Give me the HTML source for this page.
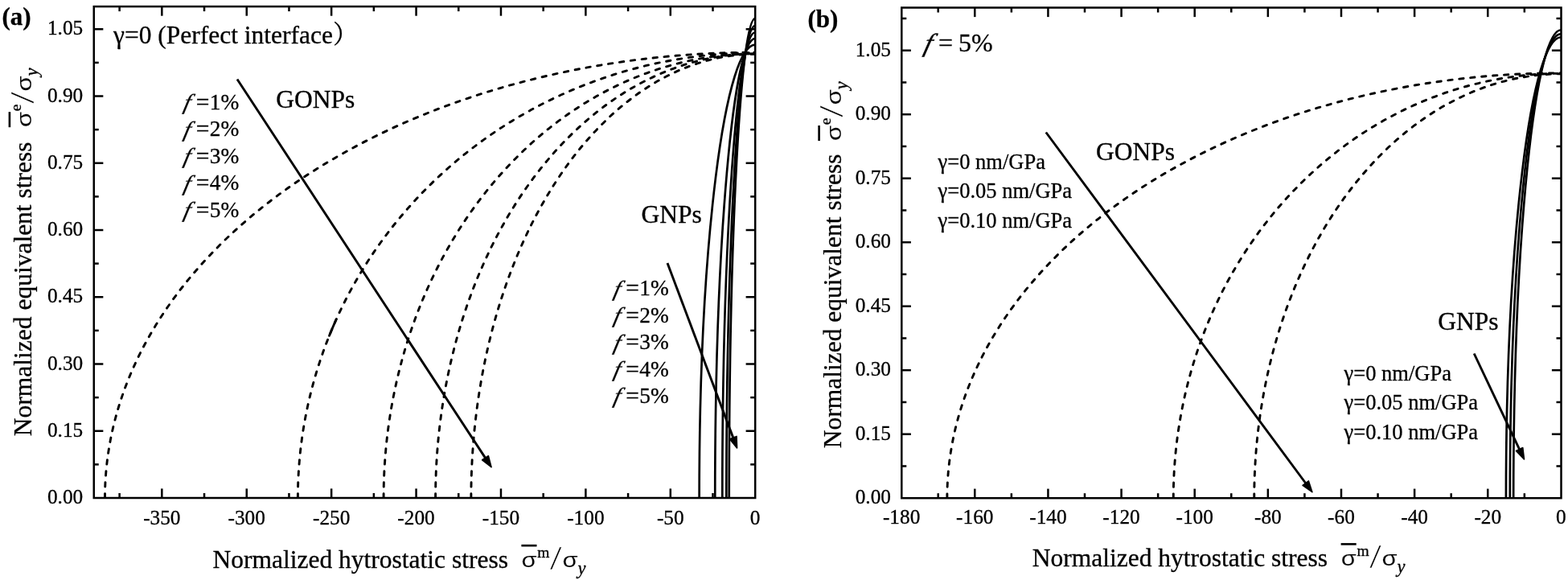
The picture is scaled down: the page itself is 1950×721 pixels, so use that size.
<!DOCTYPE html>
<html><head><meta charset="utf-8"><title>Yield surfaces</title>
<style>
html,body{margin:0;padding:0;background:#fff;}
svg{display:block;font-family:'Liberation Serif', serif;fill:#000;}
text{stroke:#000;stroke-width:0.3px;}
</style></head>
<body>
<svg width="1950" height="721" viewBox="0 0 1950 721">
<rect width="1950" height="721" fill="#fff"/>
<clipPath id="clipa"><rect x="116.75" y="8.1" width="822.45" height="610.9"/></clipPath>
<g clip-path="url(#clipa)">
<path d="M130.49,619.00 A808.71,553.89 0 0 1 939.20,65.11" fill="none" stroke="#000" stroke-width="2.9" stroke-dasharray="5.4 8.6" stroke-linecap="round"/>
<path d="M370.41,619.00 A568.79,553.34 0 0 1 939.20,65.66" fill="none" stroke="#000" stroke-width="2.9" stroke-dasharray="5.4 8.6" stroke-linecap="round"/>
<path d="M477.08,619.00 A462.12,552.23 0 0 1 939.20,66.77" fill="none" stroke="#000" stroke-width="2.9" stroke-dasharray="5.4 8.6" stroke-linecap="round"/>
<path d="M541.59,619.00 A397.61,552.23 0 0 1 939.20,66.77" fill="none" stroke="#000" stroke-width="2.9" stroke-dasharray="5.4 8.6" stroke-linecap="round"/>
<path d="M585.87,619.00 A353.33,551.67 0 0 1 939.20,67.33" fill="none" stroke="#000" stroke-width="2.9" stroke-dasharray="5.4 8.6" stroke-linecap="round"/>
<path d="M869.63,619.00 A69.57,563.32 0 0 1 939.20,55.68" fill="none" stroke="#000" stroke-width="2.7" />
<path d="M889.24,619.00 A49.96,571.15 0 0 1 939.20,47.85" fill="none" stroke="#000" stroke-width="2.7" />
<path d="M898.30,619.00 A40.90,578.75 0 0 1 939.20,40.25" fill="none" stroke="#000" stroke-width="2.7" />
<path d="M903.36,619.00 A35.84,587.08 0 0 1 939.20,31.92" fill="none" stroke="#000" stroke-width="2.7" />
<path d="M906.73,619.00 A32.47,596.13 0 0 1 939.20,22.87" fill="none" stroke="#000" stroke-width="2.7" />
</g>
<rect x="116.75" y="8.1" width="822.45" height="610.9" fill="none" stroke="#000" stroke-width="2.5"/>
<line x1="148.62" y1="619.00" x2="148.62" y2="613.00" stroke="#000" stroke-width="2.5" />
<line x1="148.62" y1="8.10" x2="148.62" y2="14.10" stroke="#000" stroke-width="2.5" />
<line x1="201.33" y1="619.00" x2="201.33" y2="607.40" stroke="#000" stroke-width="2.5" />
<line x1="201.33" y1="8.10" x2="201.33" y2="19.70" stroke="#000" stroke-width="2.5" />
<line x1="254.03" y1="619.00" x2="254.03" y2="613.00" stroke="#000" stroke-width="2.5" />
<line x1="254.03" y1="8.10" x2="254.03" y2="14.10" stroke="#000" stroke-width="2.5" />
<line x1="306.74" y1="619.00" x2="306.74" y2="607.40" stroke="#000" stroke-width="2.5" />
<line x1="306.74" y1="8.10" x2="306.74" y2="19.70" stroke="#000" stroke-width="2.5" />
<line x1="359.45" y1="619.00" x2="359.45" y2="613.00" stroke="#000" stroke-width="2.5" />
<line x1="359.45" y1="8.10" x2="359.45" y2="14.10" stroke="#000" stroke-width="2.5" />
<line x1="412.15" y1="619.00" x2="412.15" y2="607.40" stroke="#000" stroke-width="2.5" />
<line x1="412.15" y1="8.10" x2="412.15" y2="19.70" stroke="#000" stroke-width="2.5" />
<line x1="464.86" y1="619.00" x2="464.86" y2="613.00" stroke="#000" stroke-width="2.5" />
<line x1="464.86" y1="8.10" x2="464.86" y2="14.10" stroke="#000" stroke-width="2.5" />
<line x1="517.56" y1="619.00" x2="517.56" y2="607.40" stroke="#000" stroke-width="2.5" />
<line x1="517.56" y1="8.10" x2="517.56" y2="19.70" stroke="#000" stroke-width="2.5" />
<line x1="570.27" y1="619.00" x2="570.27" y2="613.00" stroke="#000" stroke-width="2.5" />
<line x1="570.27" y1="8.10" x2="570.27" y2="14.10" stroke="#000" stroke-width="2.5" />
<line x1="622.97" y1="619.00" x2="622.97" y2="607.40" stroke="#000" stroke-width="2.5" />
<line x1="622.97" y1="8.10" x2="622.97" y2="19.70" stroke="#000" stroke-width="2.5" />
<line x1="675.67" y1="619.00" x2="675.67" y2="613.00" stroke="#000" stroke-width="2.5" />
<line x1="675.67" y1="8.10" x2="675.67" y2="14.10" stroke="#000" stroke-width="2.5" />
<line x1="728.38" y1="619.00" x2="728.38" y2="607.40" stroke="#000" stroke-width="2.5" />
<line x1="728.38" y1="8.10" x2="728.38" y2="19.70" stroke="#000" stroke-width="2.5" />
<line x1="781.09" y1="619.00" x2="781.09" y2="613.00" stroke="#000" stroke-width="2.5" />
<line x1="781.09" y1="8.10" x2="781.09" y2="14.10" stroke="#000" stroke-width="2.5" />
<line x1="833.79" y1="619.00" x2="833.79" y2="607.40" stroke="#000" stroke-width="2.5" />
<line x1="833.79" y1="8.10" x2="833.79" y2="19.70" stroke="#000" stroke-width="2.5" />
<line x1="886.50" y1="619.00" x2="886.50" y2="613.00" stroke="#000" stroke-width="2.5" />
<line x1="886.50" y1="8.10" x2="886.50" y2="14.10" stroke="#000" stroke-width="2.5" />
<line x1="116.75" y1="577.38" x2="122.75" y2="577.38" stroke="#000" stroke-width="2.5" />
<line x1="939.20" y1="577.38" x2="933.20" y2="577.38" stroke="#000" stroke-width="2.5" />
<line x1="116.75" y1="535.75" x2="128.35" y2="535.75" stroke="#000" stroke-width="2.5" />
<line x1="939.20" y1="535.75" x2="927.60" y2="535.75" stroke="#000" stroke-width="2.5" />
<line x1="116.75" y1="494.12" x2="122.75" y2="494.12" stroke="#000" stroke-width="2.5" />
<line x1="939.20" y1="494.12" x2="933.20" y2="494.12" stroke="#000" stroke-width="2.5" />
<line x1="116.75" y1="452.50" x2="128.35" y2="452.50" stroke="#000" stroke-width="2.5" />
<line x1="939.20" y1="452.50" x2="927.60" y2="452.50" stroke="#000" stroke-width="2.5" />
<line x1="116.75" y1="410.88" x2="122.75" y2="410.88" stroke="#000" stroke-width="2.5" />
<line x1="939.20" y1="410.88" x2="933.20" y2="410.88" stroke="#000" stroke-width="2.5" />
<line x1="116.75" y1="369.25" x2="128.35" y2="369.25" stroke="#000" stroke-width="2.5" />
<line x1="939.20" y1="369.25" x2="927.60" y2="369.25" stroke="#000" stroke-width="2.5" />
<line x1="116.75" y1="327.62" x2="122.75" y2="327.62" stroke="#000" stroke-width="2.5" />
<line x1="939.20" y1="327.62" x2="933.20" y2="327.62" stroke="#000" stroke-width="2.5" />
<line x1="116.75" y1="286.00" x2="128.35" y2="286.00" stroke="#000" stroke-width="2.5" />
<line x1="939.20" y1="286.00" x2="927.60" y2="286.00" stroke="#000" stroke-width="2.5" />
<line x1="116.75" y1="244.38" x2="122.75" y2="244.38" stroke="#000" stroke-width="2.5" />
<line x1="939.20" y1="244.38" x2="933.20" y2="244.38" stroke="#000" stroke-width="2.5" />
<line x1="116.75" y1="202.75" x2="128.35" y2="202.75" stroke="#000" stroke-width="2.5" />
<line x1="939.20" y1="202.75" x2="927.60" y2="202.75" stroke="#000" stroke-width="2.5" />
<line x1="116.75" y1="161.12" x2="122.75" y2="161.12" stroke="#000" stroke-width="2.5" />
<line x1="939.20" y1="161.12" x2="933.20" y2="161.12" stroke="#000" stroke-width="2.5" />
<line x1="116.75" y1="119.50" x2="128.35" y2="119.50" stroke="#000" stroke-width="2.5" />
<line x1="939.20" y1="119.50" x2="927.60" y2="119.50" stroke="#000" stroke-width="2.5" />
<line x1="116.75" y1="77.88" x2="122.75" y2="77.88" stroke="#000" stroke-width="2.5" />
<line x1="939.20" y1="77.88" x2="933.20" y2="77.88" stroke="#000" stroke-width="2.5" />
<line x1="116.75" y1="36.25" x2="128.35" y2="36.25" stroke="#000" stroke-width="2.5" />
<line x1="939.20" y1="36.25" x2="927.60" y2="36.25" stroke="#000" stroke-width="2.5" />
<text x="201.33" y="651.80" font-size="25.3" text-anchor="middle" >-350</text>
<text x="306.74" y="651.80" font-size="25.3" text-anchor="middle" >-300</text>
<text x="412.15" y="651.80" font-size="25.3" text-anchor="middle" >-250</text>
<text x="517.56" y="651.80" font-size="25.3" text-anchor="middle" >-200</text>
<text x="622.97" y="651.80" font-size="25.3" text-anchor="middle" >-150</text>
<text x="728.38" y="651.80" font-size="25.3" text-anchor="middle" >-100</text>
<text x="833.79" y="651.80" font-size="25.3" text-anchor="middle" >-50</text>
<text x="939.20" y="651.80" font-size="25.3" text-anchor="middle" >0</text>
<text x="103.20" y="626.20" font-size="25.3" text-anchor="end" >0.00</text>
<text x="103.20" y="542.95" font-size="25.3" text-anchor="end" >0.15</text>
<text x="103.20" y="459.70" font-size="25.3" text-anchor="end" >0.30</text>
<text x="103.20" y="376.45" font-size="25.3" text-anchor="end" >0.45</text>
<text x="103.20" y="293.20" font-size="25.3" text-anchor="end" >0.60</text>
<text x="103.20" y="209.95" font-size="25.3" text-anchor="end" >0.75</text>
<text x="103.20" y="126.70" font-size="25.3" text-anchor="end" >0.90</text>
<text x="103.20" y="43.45" font-size="25.3" text-anchor="end" >1.05</text>
<path d="M409.53,417.33 L410.35,415.30 L411.18,413.29 L412.01,411.27 L412.85,409.26 L413.70,407.25 L414.56,405.24 L415.43,403.24 L416.31,401.24 L417.19,399.24 L418.08,397.25" fill="none" stroke="#000" stroke-width="2.9" stroke-linejoin="round"  stroke-linecap="round"/>
<clipPath id="clipb"><rect x="1121.3" y="9.5" width="820.2" height="609.7"/></clipPath>
<g clip-path="url(#clipb)">
<path d="M1177.87,619.20 A763.53,528.41 0 0 1 1941.40,90.79" fill="none" stroke="#000" stroke-width="2.9" stroke-dasharray="5.4 8.6" stroke-linecap="round"/>
<path d="M1459.27,619.20 A482.13,527.88 0 0 1 1941.40,91.32" fill="none" stroke="#000" stroke-width="2.9" stroke-dasharray="5.4 8.6" stroke-linecap="round"/>
<path d="M1559.75,619.20 A381.65,527.35 0 0 1 1941.40,91.85" fill="none" stroke="#000" stroke-width="2.9" stroke-dasharray="5.4 8.6" stroke-linecap="round"/>
<path d="M1872.91,619.20 A68.49,572.93 0 0 1 1941.40,46.27" fill="none" stroke="#000" stroke-width="2.7" />
<path d="M1877.83,619.20 A63.57,577.17 0 0 1 1941.40,42.03" fill="none" stroke="#000" stroke-width="2.7" />
<path d="M1882.16,619.20 A59.24,581.94 0 0 1 1941.40,37.26" fill="none" stroke="#000" stroke-width="2.7" />
</g>
<rect x="1121.3" y="9.5" width="820.2" height="609.7" fill="none" stroke="#000" stroke-width="2.5"/>
<line x1="1166.71" y1="619.20" x2="1166.71" y2="613.20" stroke="#000" stroke-width="2.5" />
<line x1="1166.71" y1="9.50" x2="1166.71" y2="15.50" stroke="#000" stroke-width="2.5" />
<line x1="1212.28" y1="619.20" x2="1212.28" y2="607.60" stroke="#000" stroke-width="2.5" />
<line x1="1212.28" y1="9.50" x2="1212.28" y2="21.10" stroke="#000" stroke-width="2.5" />
<line x1="1257.85" y1="619.20" x2="1257.85" y2="613.20" stroke="#000" stroke-width="2.5" />
<line x1="1257.85" y1="9.50" x2="1257.85" y2="15.50" stroke="#000" stroke-width="2.5" />
<line x1="1303.42" y1="619.20" x2="1303.42" y2="607.60" stroke="#000" stroke-width="2.5" />
<line x1="1303.42" y1="9.50" x2="1303.42" y2="21.10" stroke="#000" stroke-width="2.5" />
<line x1="1348.99" y1="619.20" x2="1348.99" y2="613.20" stroke="#000" stroke-width="2.5" />
<line x1="1348.99" y1="9.50" x2="1348.99" y2="15.50" stroke="#000" stroke-width="2.5" />
<line x1="1394.56" y1="619.20" x2="1394.56" y2="607.60" stroke="#000" stroke-width="2.5" />
<line x1="1394.56" y1="9.50" x2="1394.56" y2="21.10" stroke="#000" stroke-width="2.5" />
<line x1="1440.13" y1="619.20" x2="1440.13" y2="613.20" stroke="#000" stroke-width="2.5" />
<line x1="1440.13" y1="9.50" x2="1440.13" y2="15.50" stroke="#000" stroke-width="2.5" />
<line x1="1485.70" y1="619.20" x2="1485.70" y2="607.60" stroke="#000" stroke-width="2.5" />
<line x1="1485.70" y1="9.50" x2="1485.70" y2="21.10" stroke="#000" stroke-width="2.5" />
<line x1="1531.27" y1="619.20" x2="1531.27" y2="613.20" stroke="#000" stroke-width="2.5" />
<line x1="1531.27" y1="9.50" x2="1531.27" y2="15.50" stroke="#000" stroke-width="2.5" />
<line x1="1576.84" y1="619.20" x2="1576.84" y2="607.60" stroke="#000" stroke-width="2.5" />
<line x1="1576.84" y1="9.50" x2="1576.84" y2="21.10" stroke="#000" stroke-width="2.5" />
<line x1="1622.41" y1="619.20" x2="1622.41" y2="613.20" stroke="#000" stroke-width="2.5" />
<line x1="1622.41" y1="9.50" x2="1622.41" y2="15.50" stroke="#000" stroke-width="2.5" />
<line x1="1667.98" y1="619.20" x2="1667.98" y2="607.60" stroke="#000" stroke-width="2.5" />
<line x1="1667.98" y1="9.50" x2="1667.98" y2="21.10" stroke="#000" stroke-width="2.5" />
<line x1="1713.55" y1="619.20" x2="1713.55" y2="613.20" stroke="#000" stroke-width="2.5" />
<line x1="1713.55" y1="9.50" x2="1713.55" y2="15.50" stroke="#000" stroke-width="2.5" />
<line x1="1759.12" y1="619.20" x2="1759.12" y2="607.60" stroke="#000" stroke-width="2.5" />
<line x1="1759.12" y1="9.50" x2="1759.12" y2="21.10" stroke="#000" stroke-width="2.5" />
<line x1="1804.69" y1="619.20" x2="1804.69" y2="613.20" stroke="#000" stroke-width="2.5" />
<line x1="1804.69" y1="9.50" x2="1804.69" y2="15.50" stroke="#000" stroke-width="2.5" />
<line x1="1850.26" y1="619.20" x2="1850.26" y2="607.60" stroke="#000" stroke-width="2.5" />
<line x1="1850.26" y1="9.50" x2="1850.26" y2="21.10" stroke="#000" stroke-width="2.5" />
<line x1="1895.83" y1="619.20" x2="1895.83" y2="613.20" stroke="#000" stroke-width="2.5" />
<line x1="1895.83" y1="9.50" x2="1895.83" y2="15.50" stroke="#000" stroke-width="2.5" />
<line x1="1121.30" y1="579.45" x2="1127.30" y2="579.45" stroke="#000" stroke-width="2.5" />
<line x1="1941.50" y1="579.45" x2="1935.50" y2="579.45" stroke="#000" stroke-width="2.5" />
<line x1="1121.30" y1="539.70" x2="1132.90" y2="539.70" stroke="#000" stroke-width="2.5" />
<line x1="1941.50" y1="539.70" x2="1929.90" y2="539.70" stroke="#000" stroke-width="2.5" />
<line x1="1121.30" y1="499.95" x2="1127.30" y2="499.95" stroke="#000" stroke-width="2.5" />
<line x1="1941.50" y1="499.95" x2="1935.50" y2="499.95" stroke="#000" stroke-width="2.5" />
<line x1="1121.30" y1="460.20" x2="1132.90" y2="460.20" stroke="#000" stroke-width="2.5" />
<line x1="1941.50" y1="460.20" x2="1929.90" y2="460.20" stroke="#000" stroke-width="2.5" />
<line x1="1121.30" y1="420.45" x2="1127.30" y2="420.45" stroke="#000" stroke-width="2.5" />
<line x1="1941.50" y1="420.45" x2="1935.50" y2="420.45" stroke="#000" stroke-width="2.5" />
<line x1="1121.30" y1="380.70" x2="1132.90" y2="380.70" stroke="#000" stroke-width="2.5" />
<line x1="1941.50" y1="380.70" x2="1929.90" y2="380.70" stroke="#000" stroke-width="2.5" />
<line x1="1121.30" y1="340.95" x2="1127.30" y2="340.95" stroke="#000" stroke-width="2.5" />
<line x1="1941.50" y1="340.95" x2="1935.50" y2="340.95" stroke="#000" stroke-width="2.5" />
<line x1="1121.30" y1="301.20" x2="1132.90" y2="301.20" stroke="#000" stroke-width="2.5" />
<line x1="1941.50" y1="301.20" x2="1929.90" y2="301.20" stroke="#000" stroke-width="2.5" />
<line x1="1121.30" y1="261.45" x2="1127.30" y2="261.45" stroke="#000" stroke-width="2.5" />
<line x1="1941.50" y1="261.45" x2="1935.50" y2="261.45" stroke="#000" stroke-width="2.5" />
<line x1="1121.30" y1="221.70" x2="1132.90" y2="221.70" stroke="#000" stroke-width="2.5" />
<line x1="1941.50" y1="221.70" x2="1929.90" y2="221.70" stroke="#000" stroke-width="2.5" />
<line x1="1121.30" y1="181.95" x2="1127.30" y2="181.95" stroke="#000" stroke-width="2.5" />
<line x1="1941.50" y1="181.95" x2="1935.50" y2="181.95" stroke="#000" stroke-width="2.5" />
<line x1="1121.30" y1="142.20" x2="1132.90" y2="142.20" stroke="#000" stroke-width="2.5" />
<line x1="1941.50" y1="142.20" x2="1929.90" y2="142.20" stroke="#000" stroke-width="2.5" />
<line x1="1121.30" y1="102.45" x2="1127.30" y2="102.45" stroke="#000" stroke-width="2.5" />
<line x1="1941.50" y1="102.45" x2="1935.50" y2="102.45" stroke="#000" stroke-width="2.5" />
<line x1="1121.30" y1="62.70" x2="1132.90" y2="62.70" stroke="#000" stroke-width="2.5" />
<line x1="1941.50" y1="62.70" x2="1929.90" y2="62.70" stroke="#000" stroke-width="2.5" />
<line x1="1121.30" y1="22.95" x2="1127.30" y2="22.95" stroke="#000" stroke-width="2.5" />
<line x1="1941.50" y1="22.95" x2="1935.50" y2="22.95" stroke="#000" stroke-width="2.5" />
<text x="1121.14" y="651.40" font-size="25.3" text-anchor="middle" >-180</text>
<text x="1212.28" y="651.40" font-size="25.3" text-anchor="middle" >-160</text>
<text x="1303.42" y="651.40" font-size="25.3" text-anchor="middle" >-140</text>
<text x="1394.56" y="651.40" font-size="25.3" text-anchor="middle" >-120</text>
<text x="1485.70" y="651.40" font-size="25.3" text-anchor="middle" >-100</text>
<text x="1576.84" y="651.40" font-size="25.3" text-anchor="middle" >-80</text>
<text x="1667.98" y="651.40" font-size="25.3" text-anchor="middle" >-60</text>
<text x="1759.12" y="651.40" font-size="25.3" text-anchor="middle" >-40</text>
<text x="1850.26" y="651.40" font-size="25.3" text-anchor="middle" >-20</text>
<text x="1941.40" y="651.40" font-size="25.3" text-anchor="middle" >0</text>
<text x="1108.00" y="626.40" font-size="25.3" text-anchor="end" >0.00</text>
<text x="1108.00" y="546.90" font-size="25.3" text-anchor="end" >0.15</text>
<text x="1108.00" y="467.40" font-size="25.3" text-anchor="end" >0.30</text>
<text x="1108.00" y="387.90" font-size="25.3" text-anchor="end" >0.45</text>
<text x="1108.00" y="308.40" font-size="25.3" text-anchor="end" >0.60</text>
<text x="1108.00" y="228.90" font-size="25.3" text-anchor="end" >0.75</text>
<text x="1108.00" y="149.40" font-size="25.3" text-anchor="end" >0.90</text>
<text x="1108.00" y="69.90" font-size="25.3" text-anchor="end" >1.05</text>
<line x1="295.00" y1="98.50" x2="604.30" y2="570.41" stroke="#000" stroke-width="2.9" />
<polygon points="611.04,580.70 599.68,571.76 607.38,566.72" fill="#000" stroke="#000" stroke-width="1.6" stroke-linejoin="round"/>
<line x1="830.00" y1="327.00" x2="912.24" y2="545.37" stroke="#000" stroke-width="2.9" />
<polygon points="916.58,556.88 907.44,545.68 916.05,542.43" fill="#000" stroke="#000" stroke-width="1.6" stroke-linejoin="round"/>
<line x1="1300.80" y1="164.50" x2="1624.57" y2="601.75" stroke="#000" stroke-width="2.9" />
<polygon points="1631.89,611.64 1620.04,603.36 1627.43,597.89" fill="#000" stroke="#000" stroke-width="1.6" stroke-linejoin="round"/>
<line x1="1833.20" y1="439.50" x2="1890.22" y2="559.80" stroke="#000" stroke-width="2.9" />
<polygon points="1895.49,570.92 1885.46,560.51 1893.78,556.57" fill="#000" stroke="#000" stroke-width="1.6" stroke-linejoin="round"/>
<text x="2.50" y="31.20" font-size="31" text-anchor="start" font-weight="bold">(a)</text>
<text x="1004.50" y="34.20" font-size="31" text-anchor="start" font-weight="bold">(b)</text>
<text x="141" y="53.8" font-size="31.5">γ=0 (Perfect interface<tspan font-family="'Liberation Serif', 'Noto Serif CJK SC', serif">）</tspan></text>
<text transform="translate(1147.8,63.7) skewX(-14) scale(1.08,1)" font-size="32" font-style="italic">f</text>
<text x="1167.1" y="63.7" font-size="32">=</text>
<text x="1192.1" y="63.7" font-size="32">5%</text>
<text x="343.20" y="134.40" font-size="31.5" text-anchor="start" >GONPs</text>
<text x="797.60" y="276.50" font-size="31.5" text-anchor="start" >GNPs</text>
<text x="1363.10" y="199.10" font-size="31.5" text-anchor="start" >GONPs</text>
<text x="1788.30" y="410.20" font-size="31.5" text-anchor="start" >GNPs</text>
<text transform="translate(227.30,136.30) skewX(-13) scale(1.08,1)" font-size="27.4" font-style="italic">f</text>
<text transform="translate(243.70,136.00) scale(1.08,1)" font-size="27.4">=</text>
<text x="260.70" y="136.00" font-size="27.4">1%</text>
<text transform="translate(227.30,169.75) skewX(-13) scale(1.08,1)" font-size="27.4" font-style="italic">f</text>
<text transform="translate(243.70,169.45) scale(1.08,1)" font-size="27.4">=</text>
<text x="260.70" y="169.45" font-size="27.4">2%</text>
<text transform="translate(227.30,203.20) skewX(-13) scale(1.08,1)" font-size="27.4" font-style="italic">f</text>
<text transform="translate(243.70,202.90) scale(1.08,1)" font-size="27.4">=</text>
<text x="260.70" y="202.90" font-size="27.4">3%</text>
<text transform="translate(227.30,236.65) skewX(-13) scale(1.08,1)" font-size="27.4" font-style="italic">f</text>
<text transform="translate(243.70,236.35) scale(1.08,1)" font-size="27.4">=</text>
<text x="260.70" y="236.35" font-size="27.4">4%</text>
<text transform="translate(227.30,270.10) skewX(-13) scale(1.08,1)" font-size="27.4" font-style="italic">f</text>
<text transform="translate(243.70,269.80) scale(1.08,1)" font-size="27.4">=</text>
<text x="260.70" y="269.80" font-size="27.4">5%</text>
<text transform="translate(761.90,367.60) skewX(-13) scale(1.08,1)" font-size="27.4" font-style="italic">f</text>
<text transform="translate(778.30,367.30) scale(1.08,1)" font-size="27.4">=</text>
<text x="795.30" y="367.30" font-size="27.4">1%</text>
<text transform="translate(761.90,401.05) skewX(-13) scale(1.08,1)" font-size="27.4" font-style="italic">f</text>
<text transform="translate(778.30,400.75) scale(1.08,1)" font-size="27.4">=</text>
<text x="795.30" y="400.75" font-size="27.4">2%</text>
<text transform="translate(761.90,434.50) skewX(-13) scale(1.08,1)" font-size="27.4" font-style="italic">f</text>
<text transform="translate(778.30,434.20) scale(1.08,1)" font-size="27.4">=</text>
<text x="795.30" y="434.20" font-size="27.4">3%</text>
<text transform="translate(761.90,467.95) skewX(-13) scale(1.08,1)" font-size="27.4" font-style="italic">f</text>
<text transform="translate(778.30,467.65) scale(1.08,1)" font-size="27.4">=</text>
<text x="795.30" y="467.65" font-size="27.4">4%</text>
<text transform="translate(761.90,501.40) skewX(-13) scale(1.08,1)" font-size="27.4" font-style="italic">f</text>
<text transform="translate(778.30,501.10) scale(1.08,1)" font-size="27.4">=</text>
<text x="795.30" y="501.10" font-size="27.4">5%</text>
<text x="1166.50" y="209.60" font-size="26.5" text-anchor="start" >γ=0 nm/GPa</text>
<text x="1166.50" y="246.15" font-size="26.5" text-anchor="start" >γ=0.05 nm/GPa</text>
<text x="1166.50" y="282.70" font-size="26.5" text-anchor="start" >γ=0.10 nm/GPa</text>
<text x="1671.60" y="472.60" font-size="26.5" text-anchor="start" >γ=0 nm/GPa</text>
<text x="1671.60" y="509.10" font-size="26.5" text-anchor="start" >γ=0.05 nm/GPa</text>
<text x="1671.60" y="545.60" font-size="26.5" text-anchor="start" >γ=0.10 nm/GPa</text>
<g transform="translate(631.90,705.70) rotate(0)">
<text x="0" y="0" font-size="31.5" text-anchor="end">Normalized hytrostatic stress</text>
<g transform="translate(0,0)">
<text transform="translate(16.7,-0.5) scale(1,0.83)" font-size="31" font-family="'Liberation Sans', 'DejaVu Sans', sans-serif" style="stroke:#fff;stroke-width:0.12px">σ</text>
<rect x="16.5" y="-28.80" width="19.1" height="2.6" fill="#000"/>
<text x="36.4" y="-13.0" font-size="19.5">m</text>
<text transform="translate(51.3,-0.9) scale(1.58,1.1)" font-size="30" font-family="'DejaVu Sans', sans-serif" font-weight="200" style="stroke:#fff;stroke-width:0.5px;vector-effect:non-scaling-stroke">/</text>
<text transform="translate(67.5,-0.5) scale(1,0.83)" font-size="31" font-family="'Liberation Sans', 'DejaVu Sans', sans-serif" style="stroke:#fff;stroke-width:0.12px">σ</text>
<text x="86.5" y="8.0" font-size="22.5" font-style="italic">y</text>
</g></g>
<g transform="translate(1651.10,703.90) rotate(0)">
<text x="0" y="0" font-size="31.5" text-anchor="end">Normalized hytrostatic stress</text>
<g transform="translate(0,0)">
<text transform="translate(16.7,-0.5) scale(1,0.83)" font-size="31" font-family="'Liberation Sans', 'DejaVu Sans', sans-serif" style="stroke:#fff;stroke-width:0.12px">σ</text>
<rect x="16.5" y="-28.80" width="19.1" height="2.6" fill="#000"/>
<text x="36.4" y="-13.0" font-size="19.5">m</text>
<text transform="translate(51.3,-0.9) scale(1.58,1.1)" font-size="30" font-family="'DejaVu Sans', sans-serif" font-weight="200" style="stroke:#fff;stroke-width:0.5px;vector-effect:non-scaling-stroke">/</text>
<text transform="translate(67.5,-0.5) scale(1,0.83)" font-size="31" font-family="'Liberation Sans', 'DejaVu Sans', sans-serif" style="stroke:#fff;stroke-width:0.12px">σ</text>
<text x="86.5" y="8.0" font-size="22.5" font-style="italic">y</text>
</g></g>
<g transform="translate(39.40,176.50) rotate(-90)">
<text x="0" y="0" font-size="31.5" text-anchor="end">Normalized equivalent stress</text>
<g transform="translate(1.8,0)">
<text transform="translate(16.7,-0.5) scale(1,0.83)" font-size="31" font-family="'Liberation Sans', 'DejaVu Sans', sans-serif" style="stroke:#fff;stroke-width:0.12px">σ</text>
<rect x="16.5" y="-28.80" width="19.1" height="2.6" fill="#000"/>
<text x="36.4" y="-13.0" font-size="19.5">e</text>
<text transform="translate(45.099999999999994,-0.9) scale(1.58,1.1)" font-size="30" font-family="'DejaVu Sans', sans-serif" font-weight="200" style="stroke:#fff;stroke-width:0.5px;vector-effect:non-scaling-stroke">/</text>
<text transform="translate(61.3,-0.5) scale(1,0.83)" font-size="31" font-family="'Liberation Sans', 'DejaVu Sans', sans-serif" style="stroke:#fff;stroke-width:0.12px">σ</text>
<text x="80.3" y="8.0" font-size="22.5" font-style="italic">y</text>
</g></g>
<g transform="translate(1046.10,191.60) rotate(-90)">
<text x="0" y="0" font-size="31.5" text-anchor="end">Normalized equivalent stress</text>
<g transform="translate(0,0)">
<text transform="translate(16.7,-0.5) scale(1,0.83)" font-size="31" font-family="'Liberation Sans', 'DejaVu Sans', sans-serif" style="stroke:#fff;stroke-width:0.12px">σ</text>
<rect x="16.5" y="-28.80" width="19.1" height="2.6" fill="#000"/>
<text x="36.4" y="-13.0" font-size="19.5">e</text>
<text transform="translate(45.099999999999994,-0.9) scale(1.58,1.1)" font-size="30" font-family="'DejaVu Sans', sans-serif" font-weight="200" style="stroke:#fff;stroke-width:0.5px;vector-effect:non-scaling-stroke">/</text>
<text transform="translate(61.3,-0.5) scale(1,0.83)" font-size="31" font-family="'Liberation Sans', 'DejaVu Sans', sans-serif" style="stroke:#fff;stroke-width:0.12px">σ</text>
<text x="80.3" y="8.0" font-size="22.5" font-style="italic">y</text>
</g></g>
</svg>
</body></html>
